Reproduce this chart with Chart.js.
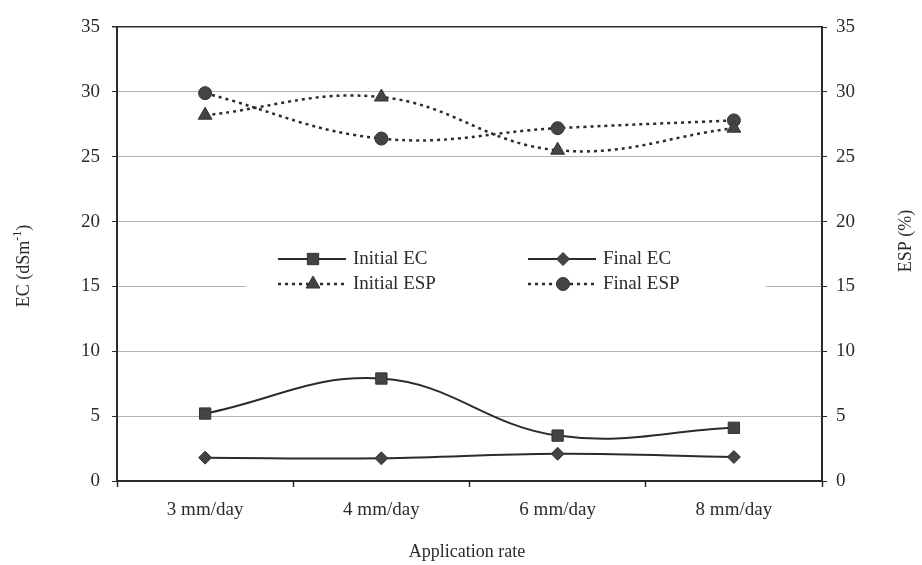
<!DOCTYPE html>
<html lang="en">
  <head>
    <meta charset="UTF-8" />
    <script src="https://cdn.jsdelivr.net/npm/chart.js@4.4.1/dist/chart.umd.min.js"></script>
    <title>EC and ESP by application rate</title>
    <style>
      html, body { margin: 0; background: #fff; }
    </style>
  </head>
  <body>
    <canvas id="chart" width="922" height="565"></canvas>
    <script>
      const categories = ["3 mm/day", "4 mm/day", "6 mm/day", "8 mm/day"];
      const initialEC = [5.2, 7.9, 3.5, 4.1];
      const finalEC = [1.8, 1.75, 2.1, 1.85];
      const initialESP = [28.2, 29.6, 25.5, 27.2];
      const finalESP = [29.9, 26.4, 27.2, 27.8];
      const yMin = 0;
      const yMax = 35;
      const yStep = 5;

      const ink = "#2b2b2b";
      const serif = "'Liberation Serif', 'DejaVu Serif', serif";

      function series(label, data, axis, style, radius, dashed) {
        return {
          label: label,
          data: data,
          yAxisID: axis,
          borderColor: ink,
          backgroundColor: "#444",
          pointBackgroundColor: "#444",
          pointBorderColor: "#333",
          pointBorderWidth: 1,
          borderWidth: dashed ? 2.5 : 2,
          borderDash: dashed ? [3, 4] : [],
          pointStyle: style,
          pointRadius: radius,
          tension: 0.4,
        };
      }

      // legend drawn inside the plot, two rows, white box
      const innerLegend = {
        id: "innerLegend",
        afterDraw(chart) {
          const ctx = chart.ctx;
          const ds = chart.data.datasets;
          ctx.save();
          ctx.fillStyle = "#fff";
          ctx.fillRect(246, 238, 520, 62);
          const cols = [278, 528];
          const rows = [259, 284];
          ds.forEach((d, i) => {
            const x = cols[i % 2];
            const y = rows[Math.floor(i / 2)];
            ctx.strokeStyle = ink;
            ctx.lineWidth = d.borderWidth;
            ctx.setLineDash(d.borderDash);
            ctx.beginPath();
            ctx.moveTo(x, y);
            ctx.lineTo(x + 68, y);
            ctx.stroke();
            ctx.setLineDash([]);
            ctx.fillStyle = "#444";
            ctx.strokeStyle = "#333";
            ctx.lineWidth = 1;
            Chart.helpers.drawPoint(ctx, {
              pointStyle: d.pointStyle,
              radius: d.pointRadius,
              rotation: 0,
              borderWidth: 1,
            }, x + 35, y);
            ctx.fillStyle = ink;
            ctx.font = "19px " + serif;
            ctx.textBaseline = "middle";
            ctx.textAlign = "left";
            ctx.fillText(d.label, x + 75, y);
          });
          ctx.restore();
        },
      };

      const axisTitles = {
        id: "axisTitles",
        afterDraw(chart) {
          const ctx = chart.ctx;
          ctx.save();
          ctx.fillStyle = ink;
          ctx.textBaseline = "middle";
          ctx.font = "18px " + serif;

          // left title with superscript
          ctx.save();
          ctx.translate(24, 266);
          ctx.rotate(-Math.PI / 2);
          const a = "EC (dSm";
          const b = "-1";
          const c = ")";
          ctx.font = "18px " + serif;
          const wa = ctx.measureText(a).width;
          const wc = ctx.measureText(c).width;
          ctx.font = "12px " + serif;
          const wb = ctx.measureText(b).width;
          let x0 = -(wa + wb + wc) / 2;
          ctx.textAlign = "left";
          ctx.font = "18px " + serif;
          ctx.fillText(a, x0, 0);
          ctx.font = "12px " + serif;
          ctx.fillText(b, x0 + wa, -6);
          ctx.font = "18px " + serif;
          ctx.fillText(c, x0 + wa + wb, 0);
          ctx.restore();

          ctx.save();
          ctx.translate(906, 241);
          ctx.rotate(-Math.PI / 2);
          ctx.textAlign = "center";
          ctx.fillText("ESP (%)", 0, 0);
          ctx.restore();

          ctx.textAlign = "center";
          ctx.fillText("Application rate", 467, 552);
          ctx.restore();
        },
      };

      const ctx = document.getElementById("chart");
      new Chart(ctx, {
        type: "line",
        data: {
          labels: categories,
          datasets: [
            series("Initial EC", initialEC, "y", "rect", 8, false),
            series("Final EC", finalEC, "y", "rectRot", 6.5, false),
            series("Initial ESP", initialESP, "y2", "triangle", 8, true),
            series("Final ESP", finalESP, "y2", "circle", 6.5, true),
          ],
        },
        options: {
          responsive: false,
          animation: false,
          devicePixelRatio: 1,
          layout: { padding: { top: 27, left: 0, right: 0, bottom: 0 } },
          plugins: {
            legend: { display: false },
            tooltip: { enabled: false },
          },
          scales: {
            x: {
              offset: true,
              afterFit(s) { s.height = 84; },
              grid: {
                offset: true,
                drawOnChartArea: false,
                tickLength: 6,
                tickColor: ink,
                tickWidth: 1.5,
              },
              border: { color: ink, width: 2 },
              ticks: {
                color: ink,
                padding: 12,
                font: { family: serif, size: 19 },
              },
            },
            y: {
              position: "left",
              min: yMin,
              max: yMax,
              afterFit(s) { s.width = 117; },
              ticks: {
                stepSize: yStep,
                color: ink,
                padding: 12,
                font: { family: serif, size: 19 },
              },
              grid: {
                color: (c) => (c.tick && c.tick.value === yMax ? ink : "#b4b4b4"),
                lineWidth: (c) => (c.tick && c.tick.value === yMax ? 1.5 : 1),
                tickColor: ink,
                tickLength: 5,
              },
              border: { color: ink, width: 2 },
            },
            y2: {
              position: "right",
              min: yMin,
              max: yMax,
              afterFit(s) { s.width = 100; },
              ticks: {
                stepSize: yStep,
                color: ink,
                padding: 9,
                font: { family: serif, size: 19 },
              },
              grid: {
                drawOnChartArea: false,
                tickColor: ink,
                tickLength: 5,
              },
              border: { color: ink, width: 2 },
            },
          },
        },
        plugins: [innerLegend, axisTitles],
      });
    </script>
  </body>
</html>
